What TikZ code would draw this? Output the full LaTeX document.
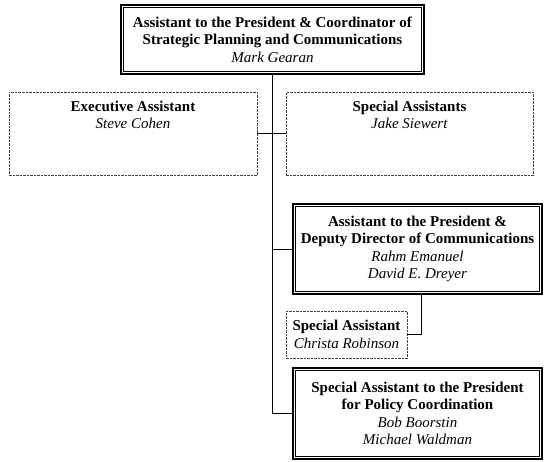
\documentclass[tikz,border=0pt]{standalone}
\usepackage{fontspec}
\setmainfont{Liberation Serif}
\usetikzlibrary{positioning}

\begin{document}
\begin{tikzpicture}[
        x=1pt, y=-1pt,
        every node/.style={font=\fontsize{15}{17.3}\selectfont},
        dblbox/.style={
            rectangle,
            draw,
            line width=1.8pt,
            align=center,
            inner sep=0pt,
        },
        dashbox/.style={
            rectangle,
            draw=black!75,
            dashed,
            dash pattern=on 2.5pt off 1pt,
            line width=0.9pt,
            align=center,
            inner sep=0pt,
        },
        boxtext/.style={
            align=center,
            inner sep=0pt,
        }
    ]

    \useasboundingbox (0,0) rectangle (544,461);

    \node (top) at (272.5,39.5) [dblbox, minimum width=303pt, minimum height=69pt] {\textbf{Assistant to the President \& Coordinator of}\\\textbf{Strategic Planning and Communications}\\\textit{Mark Gearan}};
    \node (exec) at (133,133.5) [dashbox, minimum width=248pt, minimum height=83pt] {};
    \node (spec) at (409.5,133.5) [dashbox, minimum width=247pt, minimum height=83pt] {};
    \node (exectxt) [boxtext, below=9pt of exec.north] {\textbf{Executive Assistant}\\\textit{Steve Cohen}};
    \node (spectxt) [boxtext, below=9pt of spec.north] {\textbf{Special Assistants}\\\textit{Jake Siewert}};
    \node (deputy) at (417.5,249) [dblbox, minimum width=249pt, minimum height=90pt] {\textbf{Assistant to the President \&}\\\textbf{Deputy Director of Communications}\\\textit{Rahm Emanuel}\\\textit{David E. Dreyer}};
    \node (christa) at (346.5,334.5) [dashbox, minimum width=121pt, minimum height=47pt] {\textbf{Special Assistant}\\\textit{Christa Robinson}};
    \node (policy) at (417.5,413.5) [dblbox, minimum width=249pt, minimum height=91pt] {\textbf{Special Assistant to the President}\\\textbf{for Policy Coordination}\\\textit{Bob Boorstin}\\\textit{Michael Waldman}};

    % inner line of the double frames
    \foreach \n in {top,deputy,policy}
        \draw [line width=0.6pt] ([shift={(3.4,3.4)}]\n.north west) rectangle ([shift={(-3.4,-3.4)}]\n.south east);

    \coordinate (spine) at (top.south |- policy.west);
    \draw [line width=0.8pt] (top.south) -- (spine);
    \draw [line width=0.8pt] (exec.east) -- (spec.west);
    \draw [line width=0.8pt] (top.south |- deputy.west) -- (deputy.west);
    \draw [line width=0.8pt] (spine) -- (policy.west);
    \draw [line width=0.8pt] (christa.east) -| ([xshift=4pt]christa.east -| deputy.south) -- ([xshift=4pt]deputy.south);

\end{tikzpicture}
\end{document}
